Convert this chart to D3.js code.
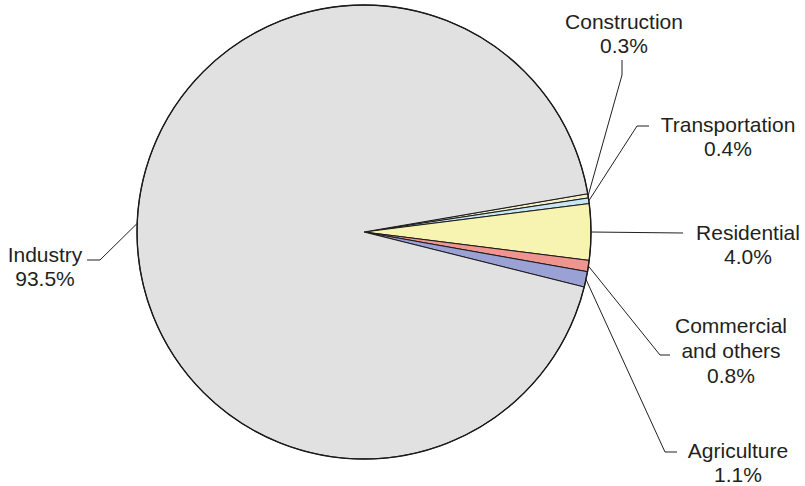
<!DOCTYPE html>
<html>
<head>
<meta charset="utf-8">
<script src="https://cdn.jsdelivr.net/npm/d3@7"></script>
<style>
  html, body { margin: 0; padding: 0; background: #fff; }
  svg { display: block; }
  text { font-family: "Liberation Sans", Arial, Helvetica, sans-serif; fill: #231f20; }
</style>
</head>
<body>
<svg id="chart" width="805" height="486"></svg>
<script>
// ---- data ----
const categories = ["Construction", "Transportation", "Residential", "Commercial and others", "Agriculture", "Industry"];
const values = [0.3, 0.4, 4.0, 0.8, 1.1, 93.5];
const labelLines = [["Construction"], ["Transportation"], ["Residential"], ["Commercial", "and others"], ["Agriculture"], ["Industry"]];
const percentLabels = ["0.3%", "0.4%", "4.0%", "0.8%", "1.1%", "93.5%"];
const colors = ["#f4eecb", "#c6e7f3", "#f7f3b0", "#f0948f", "#99a1d5", "#e1e1e1"];

// ---- layout (label placement) ----
const labelLayout = [
  { elbow: [622, 75], end: [622, 60], tx: 624, ty: 29 },
  { elbow: [637, 126], end: [649, 126], tx: 728, ty: 132 },
  { elbow: [683, 233], end: [683, 233], tx: 748, ty: 240 },
  { elbow: [660, 355], end: [670, 355], tx: 731, ty: 333 },
  { elbow: [665, 452], end: [677, 452], tx: 738, ty: 458 },
  { elbow: [100, 260], end: [87, 260], tx: 45, ty: 262 }
];

const cx = 364, cy = 232, R = 227;
const lineH = 24;

const svg = d3.select("#chart");
const g = svg.append("g").attr("transform", `translate(${cx},${cy})`);

const total = d3.sum(values);
// center the Residential slice at 3 o'clock
const before = values[0] + values[1] + values[2] / 2;
const start = Math.PI / 2 - before / total * 2 * Math.PI;

const pie = d3.pie().sort(null).startAngle(start).endAngle(start + 2 * Math.PI);
const arcs = pie(values);
const arc = d3.arc().innerRadius(0).outerRadius(R);

g.selectAll("path.slice")
  .data(arcs)
  .join("path")
  .attr("class", "slice")
  .attr("d", arc)
  .attr("fill", (d, i) => colors[i])
  .attr("stroke", "#1a1a1a")
  .attr("stroke-width", 1)
  .attr("stroke-linejoin", "round");

// outline
g.append("circle").attr("r", R).attr("fill", "none").attr("stroke", "#1a1a1a").attr("stroke-width", 1.4);

// leader lines and labels
arcs.forEach((d, i) => {
  const a = (d.startAngle + d.endAngle) / 2;
  const x0 = cx + R * Math.sin(a);
  const y0 = cy - R * Math.cos(a);
  const L = labelLayout[i];
  svg.append("polyline")
    .attr("points", [[x0, y0], L.elbow, L.end].map(p => p.join(",")).join(" "))
    .attr("fill", "none")
    .attr("stroke", "#231f20")
    .attr("stroke-width", 1);
  const t = svg.append("text")
    .attr("text-anchor", "middle")
    .attr("font-size", 21)
    .attr("x", L.tx)
    .attr("y", L.ty);
  const lines = labelLines[i].concat([percentLabels[i]]);
  lines.forEach((s, k) => {
    t.append("tspan").attr("x", L.tx).attr("y", L.ty + k * (i === 3 ? 25 : lineH)).text(s);
  });
});
</script>
</body>
</html>
